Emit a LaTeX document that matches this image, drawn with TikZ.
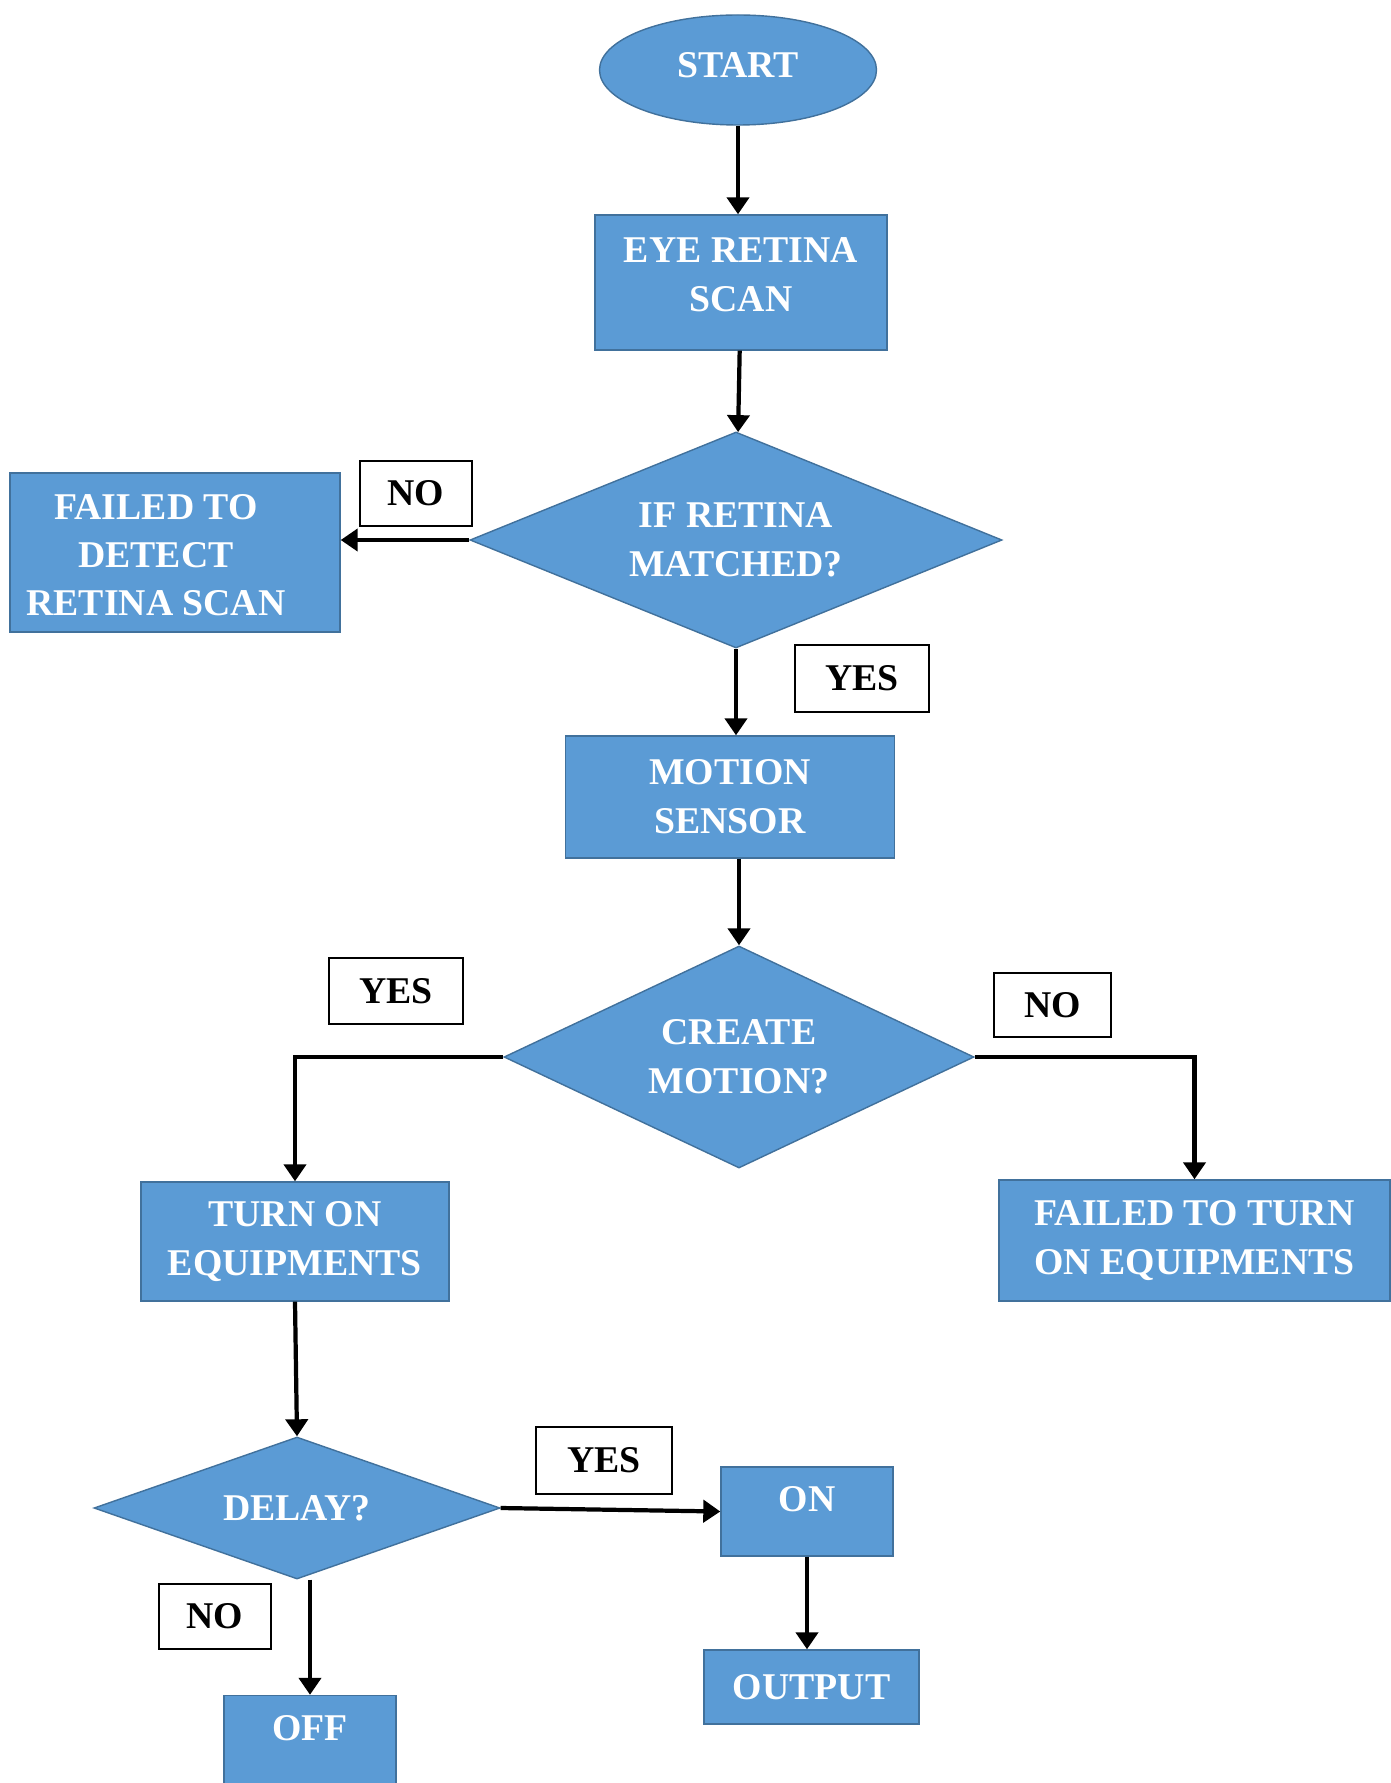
\documentclass[tikz,border=0pt]{standalone}
\usepackage{fontspec}
\setmainfont{Liberation Serif}
\usetikzlibrary{shapes.geometric,arrows.meta}
\definecolor{boxblue}{RGB}{91,155,213}
\definecolor{edgeblue}{RGB}{65,113,156}

\tikzset{
    flowbox/.style={rectangle, fill=boxblue, draw=edgeblue, line width=0.8pt, text=white,
        font=\fontsize{21.5}{28}\selectfont\bfseries, align=center, inner sep=0pt},
    flowtext/.style={text=white, font=\fontsize{21.5}{27.5}\selectfont\bfseries, align=center, inner sep=0pt},
    flowstart/.style={flowbox, ellipse},
    flowtest/.style={flowbox, diamond, aspect=2.5},
    tagbox/.style={rectangle, draw=black, line width=1.3pt, fill=white, text=black,
        font=\fontsize{21.5}{28}\selectfont\bfseries, inner sep=0pt},
    flowarrow/.style={->, line width=2.4pt}
}

\begin{document}
\begin{tikzpicture}[>={Triangle[length=0.34cm,width=0.44cm]}]
        \useasboundingbox[fill=white] (0,0) rectangle (27.8,-35.66);
        \node[flowstart, minimum width=5.54cm, minimum height=2.2cm, text depth=0.2cm] (start) at (14.76,-1.40) {START};
        \node[flowbox, minimum width=5.84cm, minimum height=2.7cm, text depth=0.32cm] (scan) at (14.82,-5.65) {EYE RETINA\\SCAN};
        \node[flowtest, minimum width=10.64cm, minimum height=4.32cm] (match) at (14.72,-10.8) {IF RETINA\\MATCHED?};
        \node[flowbox, minimum width=6.6cm, minimum height=3.18cm] (failscan) at (3.5,-11.05) {};
        \node[flowtext] (failscantext) at (3.12,-11.1) {FAILED TO\\DETECT\\RETINA SCAN};
        \node[flowbox, minimum width=6.58cm, minimum height=2.44cm] (motion) at (14.6,-15.94) {MOTION\\SENSOR};
        \node[flowtest, minimum width=9.4cm, minimum height=4.44cm] (create) at (14.78,-21.14) {CREATE\\MOTION?};
        \node[flowbox, minimum width=6.16cm, minimum height=2.38cm] (turnon) at (5.9,-24.83) {TURN ON\\EQUIPMENTS};
        \node[flowbox, minimum width=7.82cm, minimum height=2.42cm] (failturn) at (23.89,-24.81) {FAILED TO TURN\\ON EQUIPMENTS};
        \node[flowtest, minimum width=8.12cm, minimum height=2.84cm] (delay) at (5.94,-30.16) {DELAY?};
        \node[flowbox, minimum width=3.44cm, minimum height=1.78cm, text depth=0.52cm] (on) at (16.14,-30.23) {ON};
        \node[flowbox, minimum width=4.3cm, minimum height=1.48cm] (output) at (16.23,-33.74) {OUTPUT};
        \node[flowbox, minimum width=3.44cm, minimum height=1.78cm, text depth=0.5cm] (off) at (6.2,-34.8) {OFF};

        \node[tagbox, minimum width=2.24cm, minimum height=1.3cm] (nomatch) at (8.32,-9.87) {NO};
        \node[tagbox, minimum width=2.68cm, minimum height=1.34cm] (yesmatch) at (17.24,-13.57) {YES};
        \node[tagbox, minimum width=2.68cm, minimum height=1.32cm] (yesmotion) at (7.92,-19.82) {YES};
        \node[tagbox, minimum width=2.34cm, minimum height=1.28cm] (nomotion) at (21.05,-20.1) {NO};
        \node[tagbox, minimum width=2.72cm, minimum height=1.34cm] (yesdelay) at (12.08,-29.21) {YES};
        \node[tagbox, minimum width=2.24cm, minimum height=1.3cm] (nodelay) at (4.3,-32.33) {NO};

        \draw[flowarrow] (start) -- (start |- scan.north);
        \draw[flowarrow] (scan) -- (match);
        \draw[flowarrow] (match.west) -- (failscan.east |- match.west);
        \draw[flowarrow] (match.south) -- (match.south |- motion.north);
        \draw[flowarrow] (create.north |- motion.south) -- (create.north);
        \draw[flowarrow] (create.west) -| (turnon.north);
        \draw[flowarrow] (create.east) -| (failturn.north);
        \draw[flowarrow] (turnon.south) -- (delay.north);
        \draw[flowarrow] (delay.east) -- (on.west);
        \draw[flowarrow] (on.south) -- (on.south |- output.north);
        \draw[flowarrow] (off.north |- delay.south) -- (off.north);
    \end{tikzpicture}
\end{document}
